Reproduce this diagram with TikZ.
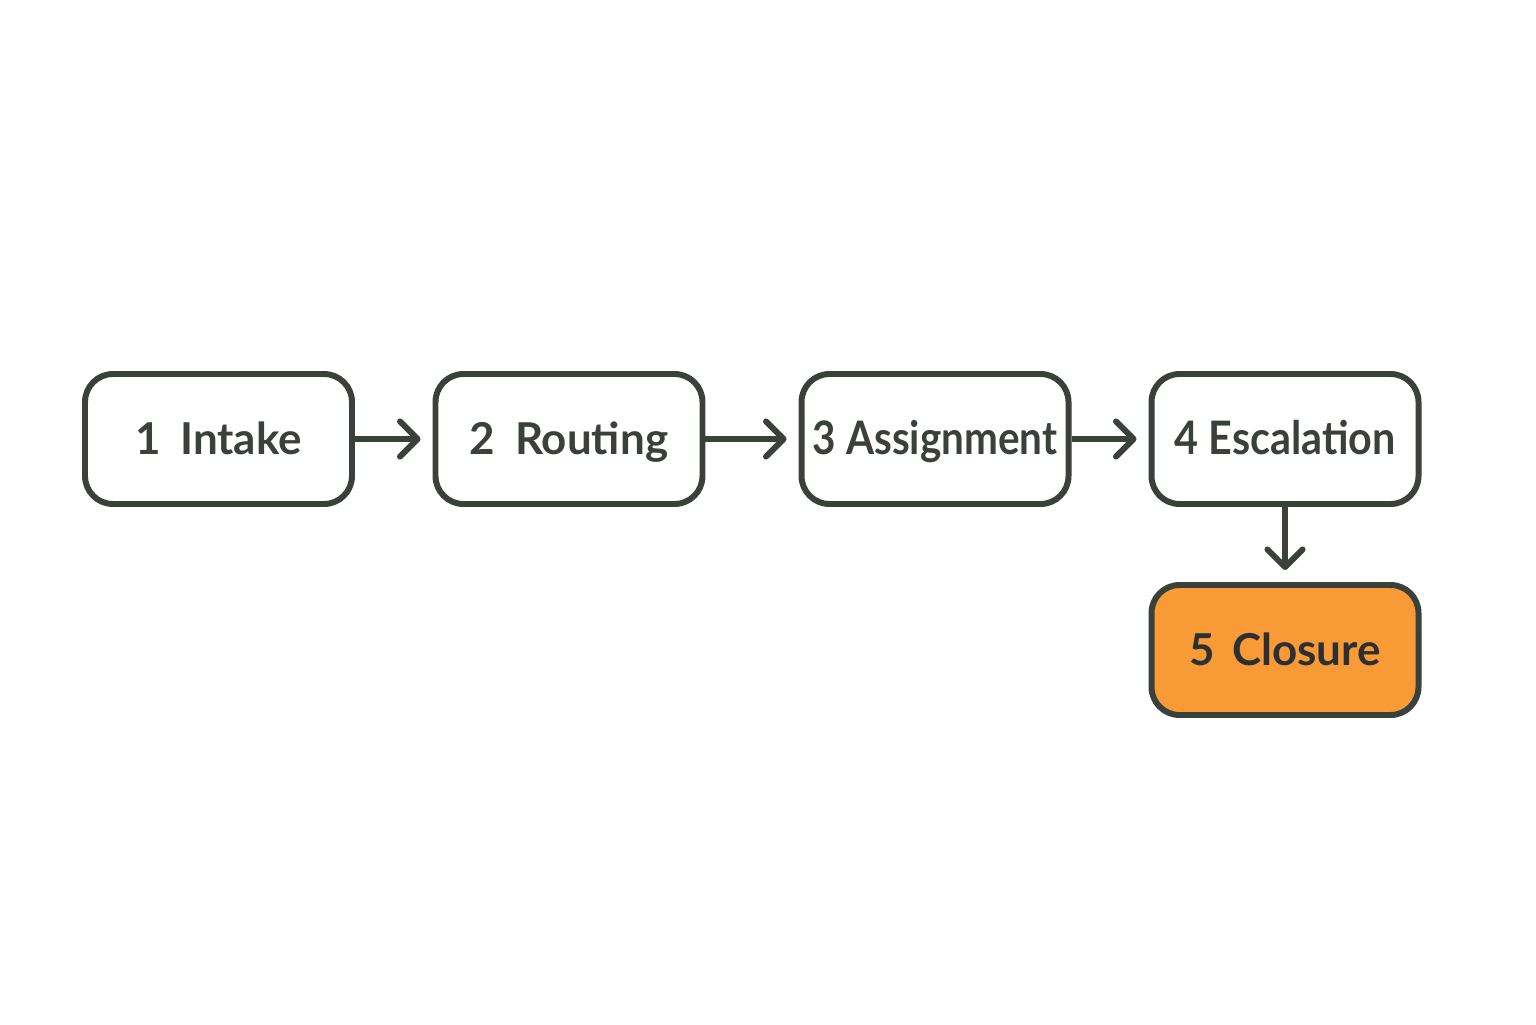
\documentclass[tikz,border=0pt]{standalone}
\usepackage{fontspec}
\setsansfont{Lato}
\usetikzlibrary{arrows.meta,positioning}
\definecolor{flowink}{RGB}{58,65,59}
\definecolor{flowdone}{RGB}{248,155,55}
\definecolor{flowtext}{RGB}{44,48,52}

\begin{document}
\begin{tikzpicture}[
  font=\sffamily\bfseries\fontsize{12.5}{15}\selectfont,
  stage/.style={draw=flowink,fill=white,rounded corners=0.28cm,line width=1.7pt,
    minimum width=2.67cm,minimum height=1.30cm,text=flowink,inner sep=2pt,
    text height=0.86em,text depth=0pt},
  done/.style={stage,fill=flowdone,text=flowtext},
  flow/.style={flowink,line width=1.7pt,shorten >=0.12cm,
    -{Straight Barb[length=5pt,width=10pt,line width=1.7pt,round]}}]

\useasboundingbox (0,0) rectangle (15.36,10.24);

\node[stage] (intake) at (2.185,5.85) {1\hspace{0.45em}Intake};
\node[stage] (routing) at (5.69,5.85) {2\hspace{0.45em}Routing};
\node[stage] (assign) at (9.35,5.85) {\scalebox{0.92}[1.05]{3 Assignment}};
\node[stage] (escal) at (12.85,5.85) {\scalebox{0.94}[1.05]{4 Escalation}};
\node[done] (closure) at (12.85,3.74) {5\hspace{0.4em}Closure};

\draw[flow] (intake)--(routing);
\draw[flow] (routing)--(assign);
\draw[flow] (assign)--(escal);
\draw[flow] (escal)--(closure);
\end{tikzpicture}
\end{document}
